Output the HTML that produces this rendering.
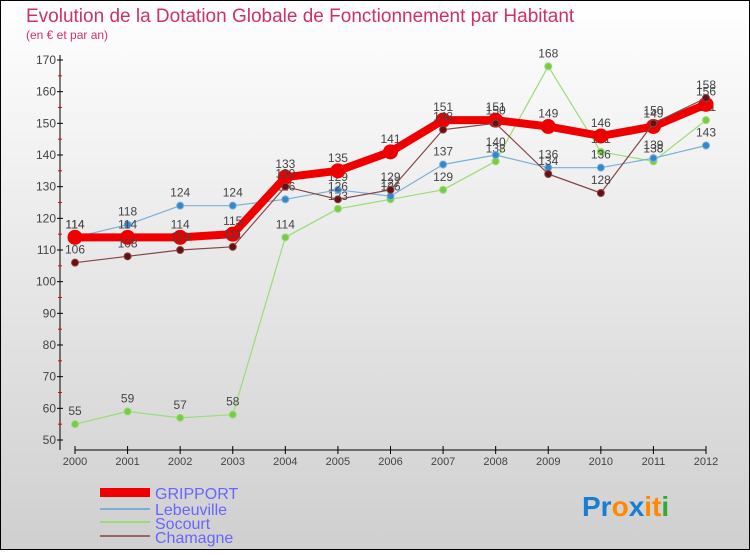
<!DOCTYPE html>
<html><head><meta charset="utf-8"><style>
body{margin:0;width:750px;height:550px;overflow:hidden;font-family:"Liberation Sans",sans-serif}
svg text{font-family:"Liberation Sans",sans-serif}
</style></head><body>
<svg id="c" width="750" height="550" xmlns="http://www.w3.org/2000/svg">
<defs><linearGradient id="bg" x1="0" y1="0" x2="0" y2="1"><stop offset="0" stop-color="#ffffff"/><stop offset="1" stop-color="#cfcfcf"/></linearGradient></defs>
<rect x="0.5" y="0.5" width="749" height="549" fill="url(#bg)" stroke="#000"/>
<text x="26" y="22" font-size="19" fill="#d0306a">Evolution de la Dotation Globale de Fonctionnement par Habitant</text>
<text x="26" y="39" font-size="12" fill="#d0306a">(en € et par an)</text>
<g id="axes"></g><g id="series"></g>
<g>
<rect x="100" y="488" width="50" height="9" fill="#e00"/>
<text x="155" y="499" font-size="16" fill="#6666ff">GRIPPORT</text>
<rect x="100" y="508" width="50" height="2" fill="#7ab0d8"/>
<text x="155" y="515" font-size="16" fill="#6666ff">Lebeuville</text>
<rect x="100" y="521" width="50" height="2" fill="#99dd77"/>
<text x="155" y="529" font-size="16" fill="#6666ff">Socourt</text>
<rect x="100" y="535" width="50" height="2" fill="#996666"/>
<text x="155" y="543" font-size="16" fill="#6666ff">Chamagne</text>
</g>
<text x="582" y="516" font-size="28" font-weight="bold"><tspan fill="#1a7ed0">Pr</tspan><tspan fill="#ff8800">o</tspan><tspan fill="#1a7ed0">x</tspan><tspan fill="#ff8800">it</tspan><tspan fill="#33aa33">i</tspan></text>
</svg>
<script>
const years=["2000","2001","2002","2003","2004","2005","2006","2007","2008","2009","2010","2011","2012"];
const yTicks=[50,60,70,80,90,100,110,120,130,140,150,160,170];
const gripport=[114,114,114,115,133,135,141,151,151,149,146,149,156];
const lebeuville=[114,118,124,124,126,129,127,137,140,136,136,139,143];
const socourt=[55,59,57,58,114,123,126,129,138,168,141,138,151];
const chamagne=[106,108,110,111,130,126,129,148,150,134,128,150,158];
const NS="http://www.w3.org/2000/svg";
const xS=i=>75+i*(706-75)/(years.length-1);
const yS=v=>440-(v-50)*(380/120);
function mk(t,a,p){const e=document.createElementNS(NS,t);for(const k in a)e.setAttribute(k,a[k]);p.appendChild(e);return e;}
const ax=document.getElementById('axes');
let l=mk('line',{x1:60,y1:55,x2:60,y2:450,stroke:'#000'},ax);


l=mk('line',{x1:75,y1:450,x2:706,y2:450,stroke:'#000'},ax);


yTicks.forEach(v=>{
 mk('line',{x1:57,y1:yS(v),x2:63,y2:yS(v),stroke:'#000'},ax);
 if(v<170) mk('line',{x1:58,y1:yS(v+5),x2:62,y2:yS(v+5),stroke:'#e00'},ax);
 const t=mk('text',{x:56,y:yS(v)+4,'font-size':12,'text-anchor':'end',fill:'#444'},ax);t.textContent=v;
 
 
});
years.forEach((y,i)=>{
 mk('line',{x1:xS(i),y1:446,x2:xS(i),y2:454,stroke:'#000'},ax);
 const t=mk('text',{x:xS(i),y:465,'font-size':11,'text-anchor':'middle',fill:'#444'},ax);t.textContent=y;
 
 
});
const sg=document.getElementById('series');
function draw(name,vals,col,dot,w,r){
 const g=mk('g',{},sg);
 
 
 const p=mk('polyline',{points:vals.map((v,i)=>xS(i)+','+yS(v)).join(' '),fill:'none',stroke:col,'stroke-width':w,'stroke-linejoin':'round'},g);
 
 
 vals.forEach((v,i)=>{
  const c=mk('circle',{cx:xS(i),cy:yS(v),r:r,fill:dot,stroke:col,'stroke-width':1},g);
  
  
  const t=mk('text',{x:xS(i),y:yS(v)-9,'font-size':12,'text-anchor':'middle',fill:'#444'},g);t.textContent=v;
  
  
 });
}
draw('socourt',socourt,'#99dd77','#77cc44',1.2,3.5);
draw('lebeuville',lebeuville,'#7ab0d8','#3388cc',1.2,3.5);
draw('gripport',gripport,'#ee0000','#ee0000',8,7);
draw('chamagne',chamagne,'#884444','#661111',1.2,3.5);
</script>
</body></html>
